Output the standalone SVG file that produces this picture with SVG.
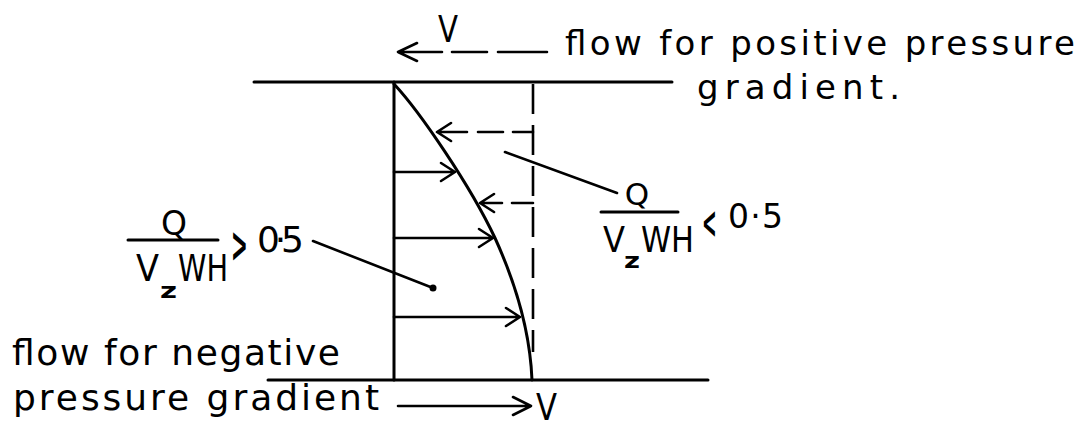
<svg xmlns="http://www.w3.org/2000/svg" width="1090" height="428" viewBox="0 0 1090 428">
<defs>
<style>
.ln{stroke:#000;stroke-width:3;fill:none;stroke-linecap:round;stroke-linejoin:round}
.ar{stroke:#000;stroke-width:2.6;fill:none;stroke-linecap:round;stroke-linejoin:round}
.ds{stroke:#000;stroke-width:2.6;fill:none;stroke-dasharray:30 11}
.t{font-family:"DejaVu Sans","Liberation Sans",Arial,sans-serif;fill:#000}
.sub{font-weight:bold}
</style>
</defs>
<rect width="1090" height="428" fill="#fff"/>
<g id="walls">
<line class="ln" x1="254" y1="82" x2="672" y2="82"/>
<line class="ln" x1="268" y1="380" x2="708" y2="380"/>
<line class="ln" x1="394" y1="82" x2="394" y2="380"/>
</g>
<g id="profile">
<path class="ln" d="M394,84 C420,112 470,185 495,238 C515,282 530,330 532,380"/>
<line class="ds" x1="533" y1="84" x2="533" y2="352"/>
</g>
<g id="connectors">
<path class="ar" d="M394,172 H455 M441,163 L455,172 L441,181"/>
<path class="ar" d="M394,238 H493 M479,229 L493,238 L479,247"/>
<path class="ar" d="M394,317 H520 M506,308 L520,317 L506,326"/>
<path class="ar" d="M533,132 H513 M503,132 H478 M467,132 H437 M451,123 L437,132 L451,141"/>
<path class="ar" d="M533,203 H512 M502,203 H480 M494,194 L480,203 L494,212"/>
<path class="ar" d="M313,241 L433,288"/>
<circle cx="433" cy="288" r="3.5" fill="#000"/>
<path class="ar" d="M505,152 L617,193"/>
<path class="ar" d="M442,52 H398 M417,43 L398,52 L417,61 M452,52 H487 M498,52 H547"/>
<path class="ar" d="M398,406 H531 M513,397 L531,406 L513,415"/>
</g>
<g id="label-top">
<text class="t" x="438" y="42" font-size="38" textLength="20" lengthAdjust="spacingAndGlyphs">V</text>
<text class="t" x="565" y="55" font-size="34" textLength="510" lengthAdjust="spacing">flow for positive pressure</text>
<text class="t" x="697" y="99" font-size="34" textLength="203" lengthAdjust="spacing">gradient.</text>
</g>
<g id="label-left">
<text class="t" x="174" y="235" font-size="33" text-anchor="middle">Q</text>
<line class="ln" x1="128" y1="240" x2="218" y2="240"/>
<text class="t" x="136" y="281" font-size="37" textLength="23" lengthAdjust="spacingAndGlyphs">V</text>
<text class="t sub" x="160" y="298" font-size="22" textLength="17" lengthAdjust="spacingAndGlyphs">z</text>
<text class="t" x="178" y="281" font-size="37" textLength="50" lengthAdjust="spacingAndGlyphs">WH</text>
<text class="t" font-size="50" font-weight="bold" transform="translate(231,262) scale(0.4,1)">&gt;</text>
<text class="t" x="257" y="252" font-size="36" textLength="47" lengthAdjust="spacing">0·5</text>
</g>
<g id="label-right">
<text class="t" x="637" y="205" font-size="31" text-anchor="middle">Q</text>
<line class="ln" x1="601" y1="212" x2="678" y2="212"/>
<text class="t" x="603" y="252" font-size="35" textLength="22" lengthAdjust="spacingAndGlyphs">V</text>
<text class="t sub" x="624" y="268" font-size="22" textLength="16" lengthAdjust="spacingAndGlyphs">z</text>
<text class="t" x="641" y="252" font-size="35" textLength="53" lengthAdjust="spacingAndGlyphs">WH</text>
<text class="t" font-size="44" font-weight="bold" transform="translate(702,238) scale(0.4,1)">&lt;</text>
<text class="t" x="728" y="228" font-size="33" textLength="55" lengthAdjust="spacing">0·5</text>
</g>
<g id="label-bottom">
<text class="t" x="12" y="365" font-size="36" textLength="328" lengthAdjust="spacing">flow for negative</text>
<text class="t" x="13" y="410" font-size="36" textLength="366" lengthAdjust="spacing">pressure gradient</text>
<text class="t" x="536" y="420" font-size="37" textLength="21" lengthAdjust="spacingAndGlyphs">V</text>
</g>
</svg>
